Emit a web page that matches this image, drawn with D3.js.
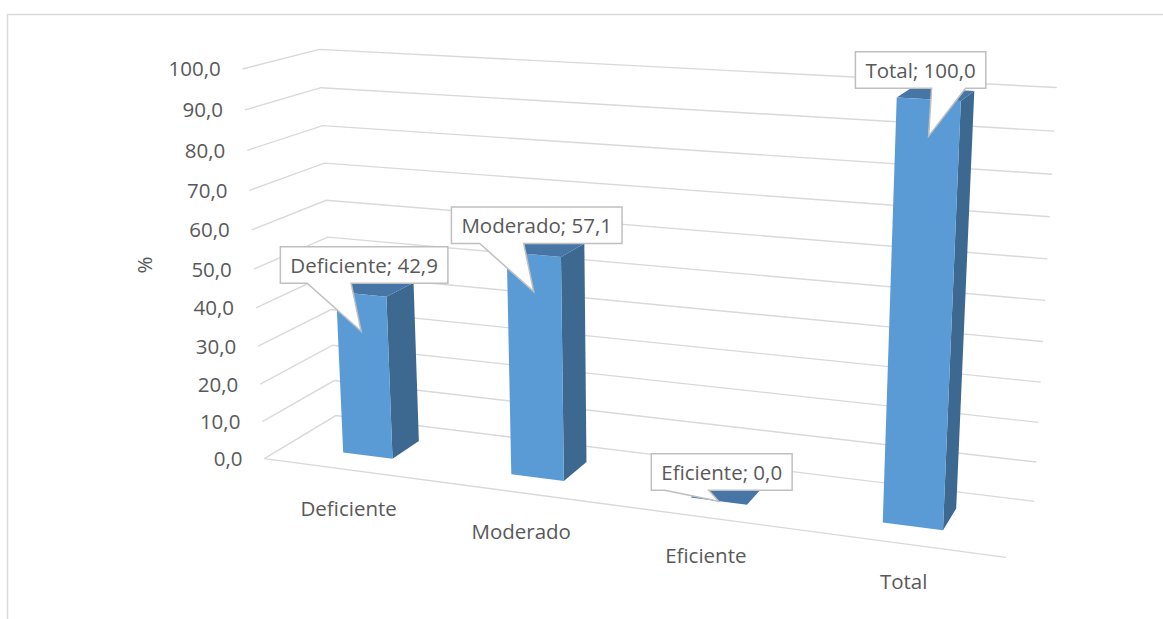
<!DOCTYPE html>
<html><head><meta charset="utf-8">
<script src="https://cdn.jsdelivr.net/npm/d3@7"></script>
<style>body{margin:0;background:#fff}svg{display:block}text{font-family:"Open Sans",sans-serif;fill:#595959}</style>
</head><body>
<svg id="c" width="1163" height="619"></svg>
<script>
const categories = ["Deficiente", "Moderado", "Eficiente", "Total"];
const values = [42.9, 57.1, 0.0, 100.0];
const yTicks = [0, 10, 20, 30, 40, 50, 60, 70, 80, 90, 100];
const yLabel = "%";

// calibration of the 3D box (world X 0..1 category axis, Y 0..1 value, Z 0 front .. 1 back)
const calib = [
  [0,1,0,243,69],[0,1,1,320,49],[1,1,1,1057,88],[1,0,1,1034,502],
  [0,0,1,336,415],[0,0,0,265,459],[1,0,0,1006,557],
  [0,0.5,0,253,269],[0,0.9,1,321,87.7],[0,0.8,1,322.7,125.7],[0,0.7,1,324,163.3],[0,0.6,1,325.7,200.7],
  [1,0.9,1,1054,130.7],[1,0.8,1,1052,174],[1,0.7,1,1050,217],[1,0.2,1,1038,422],[1,0.1,1,1037,462]
];
function solveP(pts){
  const A=[],b=[];
  pts.forEach(([X,Y,Z,u,v])=>{
    A.push([X,Y,Z,1,0,0,0,0,-u*X,-u*Y,-u*Z]); b.push(u);
    A.push([0,0,0,0,X,Y,Z,1,-v*X,-v*Y,-v*Z]); b.push(v);
  });
  const n=11, M=[];
  for(let i=0;i<n;i++){M.push(new Array(n+1).fill(0));
    for(let j=0;j<n;j++){let s=0;for(let k=0;k<A.length;k++)s+=A[k][i]*A[k][j];M[i][j]=s;}
    let s=0;for(let k=0;k<A.length;k++)s+=A[k][i]*b[k];M[i][n]=s;}
  for(let c=0;c<n;c++){let p=c;for(let r=c+1;r<n;r++)if(Math.abs(M[r][c])>Math.abs(M[p][c]))p=r;
    [M[c],M[p]]=[M[p],M[c]];
    for(let r=0;r<n;r++){if(r===c)continue;const f=M[r][c]/M[c][c];for(let k=c;k<=n;k++)M[r][k]-=f*M[c][k];}}
  return M.map((r,i)=>r[n]/r[i]);
}
const P=solveP(calib);
function proj(X,Y,Z){const w=P[8]*X+P[9]*Y+P[10]*Z+1;return [(P[0]*X+P[1]*Y+P[2]*Z+P[3])/w,(P[4]*X+P[5]*Y+P[6]*Z+P[7])/w];}

const x = d3.scaleBand().domain(categories).range([0,1]).paddingInner(0.7).paddingOuter(0.35);
const y = d3.scaleLinear().domain([0,100]).range([0,1]);
const z0=0.3, z1=0.7;
const fmt = d3.formatLocale({decimal:",",thousands:".",grouping:[3],currency:["","€"]}).format(".1f");
const FS=20.5;

const svg=d3.select("#c");
svg.append("rect").attr("x",7.5).attr("y",14.5).attr("width",1200).attr("height",700)
  .attr("fill","none").attr("stroke","#d9d9d9").attr("stroke-width",1.5);

const line=d3.line();
const grid=svg.append("g").attr("stroke","#d9d9d9").attr("stroke-width",1.4).attr("fill","none");
yTicks.forEach(t=>{
  const v=y(t);
  grid.append("path").attr("d",line([proj(0,v,0),proj(0,v,1),proj(1,v,1)]));
});
grid.append("path").attr("d",line([proj(0,0,0),proj(1,0,0)]));

// tick labels
yTicks.forEach(t=>{
  const p=proj(0,y(t),0);
  svg.append("text").attr("x",p[0]-22).attr("y",p[1]+2).attr("text-anchor","end")
    .attr("dominant-baseline","middle").attr("font-size",FS).text(fmt(t));
});
svg.append("text").attr("transform","translate(152,265) rotate(-90)").attr("text-anchor","middle")
  .attr("font-size",FS).text(yLabel);

// bars
const poly=pts=>"M"+pts.map(p=>p.join(",")).join("L")+"Z";
const bars=svg.append("g");
const tops=[];
categories.forEach((c,i)=>{
  const xa=x(c), xb=x(c)+x.bandwidth(), v=y(values[i]);
  bars.append("path").attr("fill","#3d6990").attr("d",poly([proj(xb,0,z0),proj(xb,0,z1),proj(xb,v,z1),proj(xb,v,z0)]));
  bars.append("path").attr("fill","#4776a6").attr("d",poly([proj(xa,v,z0),proj(xb,v,z0),proj(xb,v,z1),proj(xa,v,z1)]));
  if(values[i]>0) bars.append("path").attr("fill","#5b9bd5").attr("d",poly([proj(xa,0,z0),proj(xb,0,z0),proj(xb,v,z0),proj(xa,v,z0)]));
  tops.push({top:proj(xa+x.bandwidth()/2,v,z0),bot:proj(xa+x.bandwidth()/2,0,z0)});
});

// category labels
categories.forEach((c,i)=>{
  const p=proj(x(c)+x.bandwidth()/2,0,0);
  svg.append("text").attr("x",p[0]+2).attr("y",p[1]+46).attr("text-anchor","middle").attr("font-size",FS).text(c);
});

// callouts
const lab=svg.append("g");
categories.forEach((c,i)=>{
  const {top,bot}=tops[i];
  const tip=[top[0],Math.min(top[1]+37,bot[1])];
  const right = top[0]>850;
  const t=lab.append("text").attr("font-size",FS).attr("text-anchor","middle").text(c+"; "+fmt(values[i]));
  const tw=t.node().getComputedTextLength();
  const bw=tw+20,bh=36.5;
  const cx=top[0]+(right?-8:3), by=top[1]-11;
  const L=cx-bw/2,R=cx+bw/2,T=by-bh;
  const b1=right?cx+11:cx-57, b2=right?cx+45:cx-13;
  lab.insert("path","text").attr("fill","#fff").attr("stroke","#bfbfbf").attr("stroke-width",1.5)
    .attr("d",poly([[L,T],[R,T],[R,by],[b2,by],tip,[b1,by],[L,by]]));
  t.attr("x",cx).attr("y",by-bh/2).attr("dominant-baseline","central");
});
</script>
</body></html>
